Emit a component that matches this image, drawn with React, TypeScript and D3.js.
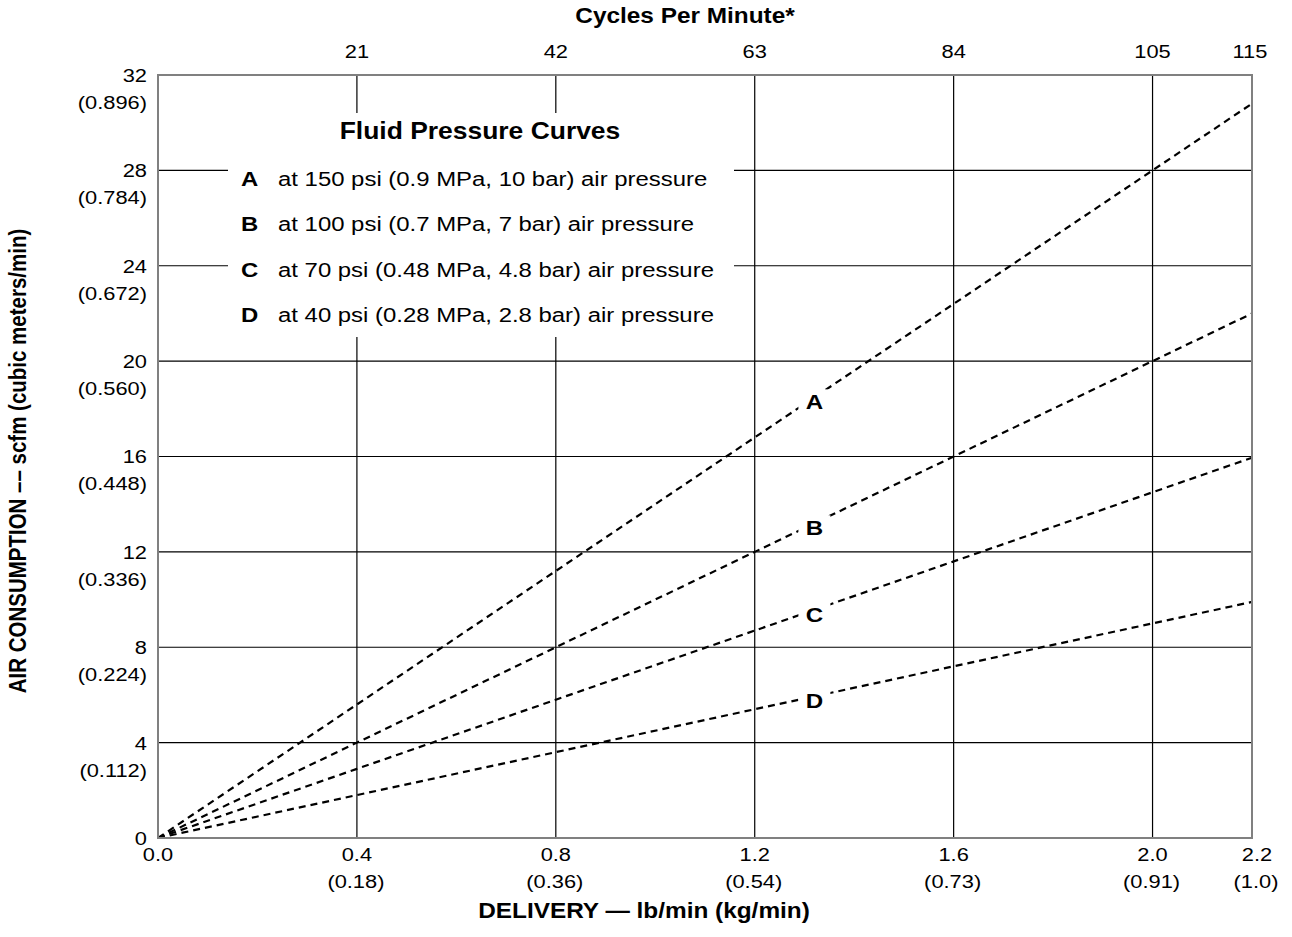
import React, { useEffect, useRef } from "react";
import * as d3 from "d3";

// delivery (lb/min) ticks with kg/min equivalents
const deliveryTicks = [0, 0.4, 0.8, 1.2, 1.6, 2.0, 2.2];
const deliveryMetric = ["", "(0.18)", "(0.36)", "(0.54)", "(0.73)", "(0.91)", "(1.0)"];
// top axis: cycles per minute at the same positions
const cycleTicks = [0.4, 0.8, 1.2, 1.6, 2.0, 2.2];
const cycleLabels = ["21", "42", "63", "84", "105", "115"];
// air consumption ticks (scfm) with cubic meters/min
const airTicks = [0, 4, 8, 12, 16, 20, 24, 28, 32];
const airMetric = ["", "(0.112)", "(0.224)", "(0.336)", "(0.448)", "(0.560)", "(0.672)", "(0.784)", "(0.896)"];

// curves
const curveDelivery = [0, 0.4, 0.8, 1.2, 1.6, 2.0, 2.2];
const curveA = [0, 5.6, 11.2, 16.8, 22.4, 28, 30.8];
const curveB = [0, 4, 8, 12, 16, 20, 22];
const curveC = [0, 2.9, 5.8, 8.7, 11.6, 14.5, 15.95];
const curveD = [0, 1.8, 3.6, 5.4, 7.2, 9.0, 9.9];
const curveNames = ["A", "B", "C", "D"];
const labelAt = 1.32;

const legendTitle = "Fluid Pressure Curves";
const legendRows = [
  "at 150 psi (0.9 MPa, 10 bar) air pressure",
  "at 100 psi (0.7 MPa, 7 bar) air pressure",
  "at 70 psi (0.48 MPa, 4.8 bar) air pressure",
  "at 40 psi (0.28 MPa, 2.8 bar) air pressure",
];

const FONT = "'Liberation Sans', Arial, Helvetica, sans-serif";
const SX = 1.15; // the original lettering is a bit wide

type Sel = d3.Selection<SVGGElement, unknown, null, undefined>;

// text with horizontal stretch, centred vertically on y
const addText = (
  parent: Sel,
  x: number,
  y: number,
  str: string,
  size: number,
  opts: { bold?: boolean; anchor?: string } = {}
) =>
  parent
    .append("text")
    .attr("transform", `translate(${x},${y}) scale(${SX},1)`)
    .attr("text-anchor", opts.anchor || "middle")
    .attr("dominant-baseline", "central")
    .attr("font-weight", opts.bold ? "bold" : "normal")
    .attr("font-size", size)
    .text(str);

const drawChart = (svgEl: SVGSVGElement) => {
  const width = 1292;
  const height = 937;
  const margin = { top: 75, right: 40, bottom: 99, left: 158 };

  d3.select(svgEl).selectAll("*").remove();
  const svg = d3.select(svgEl).attr("width", width).attr("height", height);

  const x = d3.scaleLinear().domain([0, 2.2]).range([margin.left, width - margin.right]);
  const y = d3.scaleLinear().domain([0, 32]).range([height - margin.bottom, margin.top]);

  const g = svg.append("g").attr("font-family", FONT) as Sel;

  // grid
  g.append("g")
    .selectAll("line")
    .data(deliveryTicks.filter((d) => d > 0 && d < 2.2))
    .enter()
    .append("line")
    .attr("x1", (d) => x(d))
    .attr("x2", (d) => x(d))
    .attr("y1", y(0))
    .attr("y2", y(32))
    .attr("stroke", "#000")
    .attr("stroke-width", 1.2);

  g.append("g")
    .selectAll("line")
    .data(airTicks.filter((d) => d > 0 && d < 32))
    .enter()
    .append("line")
    .attr("x1", x(0))
    .attr("x2", x(2.2))
    .attr("y1", (d) => y(d))
    .attr("y2", (d) => y(d))
    .attr("stroke", "#000")
    .attr("stroke-width", 1.2);

  // legend box (covers grid)
  const lgX = x(0) + 70;
  const lgY = y(32) + 38;
  const lg = g.append("g").attr("transform", `translate(${lgX},${lgY})`) as Sel;
  lg.append("rect").attr("width", 506).attr("height", 224).attr("fill", "#fff");
  addText(lg, 252, 18, legendTitle, 23, { bold: true });
  legendRows.forEach((row, i) => {
    const ry = 66 + i * 45.3;
    addText(lg, 13, ry, curveNames[i], 20.8, { bold: true, anchor: "start" });
    addText(lg, 50, ry, row, 20.8, { anchor: "start" });
  });

  // curves
  const curves = [curveA, curveB, curveC, curveD];
  const line = d3
    .line<number>()
    .x((_, i) => x(curveDelivery[i]))
    .y((d) => y(d));

  curves.forEach((vals, k) => {
    g.append("path")
      .attr("d", line(vals) || "")
      .attr("fill", "none")
      .attr("stroke", "#000")
      .attr("stroke-width", 2.2)
      .attr("stroke-dasharray", "7,5");

    const slope = vals[vals.length - 1] / curveDelivery[curveDelivery.length - 1];
    const lx = x(labelAt);
    const ly = y(slope * labelAt) + 5;
    g.append("rect")
      .attr("x", lx - 16)
      .attr("y", ly - 13)
      .attr("width", 32)
      .attr("height", 26)
      .attr("fill", "#fff");
    addText(g, lx, ly, curveNames[k], 21, { bold: true });
  });

  // frame
  g.append("rect")
    .attr("x", x(0))
    .attr("y", y(32))
    .attr("width", x(2.2) - x(0))
    .attr("height", y(0) - y(32))
    .attr("fill", "none")
    .attr("stroke", "#808080")
    .attr("stroke-width", 2);

  // y tick labels
  airTicks.forEach((v, i) => {
    addText(g, x(0) - 11, y(v), String(v), 19, { anchor: "end" });
    if (airMetric[i]) addText(g, x(0) - 11, y(v) + 27, airMetric[i], 19, { anchor: "end" });
  });

  // x tick labels
  deliveryTicks.forEach((v, i) => {
    const nudge = i === deliveryTicks.length - 1 ? 5 : 0;
    addText(g, x(v) + nudge, y(0) + 16, v.toFixed(1), 19);
    if (deliveryMetric[i]) addText(g, x(v) + nudge - 1, y(0) + 43, deliveryMetric[i], 19);
  });

  // top axis labels
  cycleTicks.forEach((v, i) => {
    addText(g, x(v) + (i === cycleTicks.length - 1 ? -2 : 0), y(32) - 24, cycleLabels[i], 19);
  });

  // axis titles
  addText(g, 685, 16, "Cycles Per Minute*", 21.2, { bold: true });
  addText(g, 644, 911, "DELIVERY — lb/min (kg/min)", 21.2, { bold: true });

  g.append("text")
    .attr("transform", `translate(18,461) rotate(-90) scale(1,${SX})`)
    .attr("text-anchor", "middle")
    .attr("dominant-baseline", "central")
    .attr("font-weight", "bold")
    .attr("font-size", 20.5)
    .text("AIR CONSUMPTION –– scfm (cubic meters/min)");
};

const App: React.FC = () => {
  const svgRef = useRef<SVGSVGElement>(null);

  useEffect(() => {
    if (svgRef.current) drawChart(svgRef.current);
  }, []);

  return (
    <div style={{ position: "absolute", left: 0, top: 0, background: "#fff" }}>
      <svg ref={svgRef} style={{ display: "block" }} />
    </div>
  );
};

export default App;
